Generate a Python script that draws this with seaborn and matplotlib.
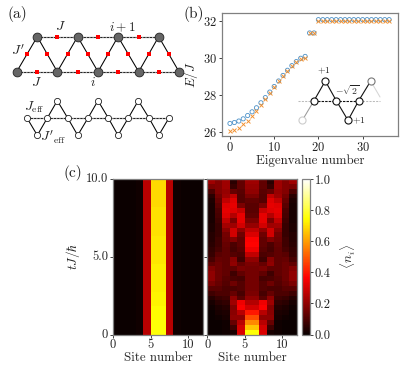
import numpy as np
import matplotlib
matplotlib.use('Agg')
import matplotlib.pyplot as plt
import seaborn as sns

sns.set_style('ticks')
plt.rcParams['font.family'] = ['cmr10', 'DejaVu Sans']
plt.rcParams['mathtext.fontset'] = 'cm'
plt.rcParams['axes.unicode_minus'] = False
plt.rcParams['axes.formatter.use_mathtext'] = True

# Panel (b) spectrum
eig_blue = [26.45, 26.5, 26.58, 26.7, 26.88, 27.08, 27.3, 27.57, 27.85, 28.15, 28.45, 28.75,
            29.05, 29.33, 29.58, 29.8, 29.98, 30.08, 31.35, 31.35] + [32.07] * 17
eig_orange = [26.05, 26.12, 26.22, 26.4, 26.6, 26.87, 27.15, 27.45, 27.78, 28.1, 28.42, 28.75,
              29.03, 29.3, 29.55, 29.75, 29.92, 30.0, 31.33, 31.33] + [32.0] * 17
eig_number = list(range(37))

# Panel (c) left, rows from t=10 down to t=0
left_core = [.69, .69, .70, .70, .71, .71, .72, .72, .73, .74, .75]
left_side = [.26, .26, .26, .26, .26, .26, .26, .26, .26, .26, .26]
left_near = [.008, .008, .008, .008, .008, .008, .008, .008, .008, .008, .008]
left_far = [.0, .0, .0, .0, .0, .0, .0, .0, .0, .0, .0]

# Panel (c) right, half of the sites (the chain is mirror symmetric), t=10 down to t=0
site0 = [.22, .17, .10, .05, .03, .02, .02, .02, .02, .03, .03, .04, .04, .05, .06, .07,
         .09, .13, .18, .20, .20, .17, .12, .08, .04, .02, .01, .0, .0, .0, .0, .0]
site1 = [.18, .18, .18, .16, .14, .12, .10, .09, .08, .07, .07, .07, .08, .08, .09, .12,
         .14, .15, .15, .15, .15, .14, .12, .10, .07, .05, .03, .02, .01, .0, .0, .0]
site2 = [.22, .22, .21, .22, .27, .32, .33, .32, .27, .23, .19, .16, .15, .14, .13, .13,
         .13, .13, .13, .13, .12, .11, .10, .10, .08, .06, .04, .03, .02, .01, .01, .01]
site3 = [.05, .07, .14, .27, .32, .33, .32, .25, .17, .22, .30, .30, .18, .10, .09, .11,
         .19, .20, .13, .08, .10, .15, .10, .14, .20, .22, .18, .19, .20, .14, .08, .02]
site4 = [.13, .13, .12, .11, .11, .17, .28, .33, .33, .30, .20, .15, .13, .13, .12, .10,
         .08, .14, .17, .13, .09, .11, .11, .09, .12, .34, .36, .26, .20, .26, .30, .31]
site5 = [.22, .21, .20, .17, .13, .12, .12, .13, .17, .21, .27, .31, .36, .37, .34, .27,
         .20, .17, .16, .16, .16, .16, .16, .17, .20, .25, .30, .40, .48, .57, .66, .75]

W, H = 415, 366
FS = 9.0
LW = 0.75


def px_axes(x0, y0, x1, y1):
    """Axes from pixel box, y counted from the top"""
    return fig.add_axes([x0 / W, 1 - y1 / H, (x1 - x0) / W, (y1 - y0) / H])


fig = plt.figure(figsize=(W / 100, H / 100), dpi=100)

# Diagram layer in pixel coordinates
bg = fig.add_axes([0, 0, 1, 1])
bg.set_xlim(0, W)
bg.set_ylim(H, 0)
bg.axis('off')


def dashed(ax, x0, x1, y):
    ax.plot([x0, x1], [y, y], color='#aaaaaa', lw=1.0, zorder=1)
    ax.plot([x0, x1], [y, y], color='#222222', lw=0.7, ls=(0, (2.2, 1.2)), zorder=2)


# (a) upper lattice
top_x = [37.3, 77.6, 118, 158.7]
bot_x = [16.7, 57.3, 98, 138.7, 179]
top_y, bot_y = 36.7, 71.7
for i, x in enumerate(top_x):
    bg.plot([bot_x[i], x, bot_x[i + 1]], [bot_y, top_y, bot_y], color='black', lw=LW, zorder=2)
dashed(bg, top_x[0], top_x[-1], top_y)
dashed(bg, bot_x[0], bot_x[-1], bot_y)
bg.scatter(top_x + bot_x, [top_y] * 4 + [bot_y] * 5, s=40, color='#666666', edgecolor='#222222', lw=0.6, zorder=3)
mid_x = [27, 47.3, 67.6, 88, 108.2, 128.3, 148.8, 169]
bg.scatter([57.3, 98, 138.7] + top_x + mid_x, [top_y] * 3 + [bot_y] * 4 + [54.3] * 8,
           s=11, marker='s', color='#ff0000', lw=0, zorder=4)

# (a) lower lattice
eff_mid = [27, 47.3, 67.7, 88, 108.3, 128.3, 149, 169]
eff_tip = [37.3, 57.3, 77.7, 98, 118, 138.3, 158.7]
eff_tip_y = [135.3, 100.7, 135.3, 100.7, 135.3, 100.7, 135.3]
for i in range(7):
    bg.plot([eff_mid[i], eff_tip[i], eff_mid[i + 1]], [118, eff_tip_y[i], 118], color='black', lw=LW, zorder=2)
dashed(bg, eff_mid[0], eff_mid[-1], 118)
bg.scatter(eff_mid + eff_tip, [118] * 8 + eff_tip_y, s=20, color='white', edgecolor='#222222', lw=0.6, zorder=3)

labels = [(17, 14, '(a)', 11), (60, 27, r'$J$', 10), (122, 27, r'$i+1$', 9.5), (18, 51, r"$J'$", 10),
          (36, 83, r'$J$', 10), (93, 83, r'$i$', 9.5), (34, 107, r'$J_{\mathrm{eff}}$', 10),
          (53, 137, r"$J'_{\mathrm{eff}}$", 10), (194, 14, '(b)', 11), (73, 173, '(c)', 11)]
for x, y, s, size in labels:
    bg.text(x, y, s, fontsize=size, ha='center', va='center', color='#222222')

# (b) spectrum
ax_b = px_axes(222, 13, 398, 136)
sns.scatterplot(x=eig_number, y=eig_blue, ax=ax_b, marker='o', s=9, facecolor='none',
                edgecolor='#4a90c8', linewidth=0.6)
sns.scatterplot(x=eig_number, y=eig_orange, ax=ax_b, marker='x', s=8, color='#f28e2b', linewidth=0.65)
ax_b.set_xlim(-1.8, 38)
ax_b.set_ylim(25.77, 32.43)
ax_b.set_xticks([0, 10, 20, 30])
ax_b.set_yticks([26, 28, 30, 32])
ax_b.set_xlabel('Eigenvalue number', fontsize=FS + 0.3, labelpad=0.5)
ax_b.set_ylabel(r'$E/J$', fontsize=FS + 0.5)
ax_b.yaxis.set_label_coords(-0.125, 0.5)
ax_b.patch.set_alpha(0)

# (b) inset drawn on top of the spectrum axes
fg = fig.add_axes([0, 0, 1, 1])
fg.set_xlim(0, W)
fg.set_ylim(H, 0)
fg.axis('off')
fg.plot([314, 302.3], [100.7, 120.3], color='#999999', lw=LW, zorder=1)
fg.plot([370.7, 380], [81, 97], color='#d5d5d5', lw=LW, zorder=1)
fg.plot([298, 314], [100.7, 100.7], color='#bbbbbb', lw=LW, ls=(0, (2, 1.2)), zorder=1)
fg.plot([358.7, 380], [100.7, 100.7], color='#bbbbbb', lw=LW, ls=(0, (2, 1.2)), zorder=1)
fg.plot([314, 358.7], [100.7, 100.7], color='#111111', lw=0.8, ls=(0, (2.2, 1)), zorder=2)
fg.plot([314, 325.3, 336.3, 348, 358.7, 370.7], [100.7, 81, 100.7, 120.3, 100.7, 81], color='#111111', lw=0.8, zorder=2)
fg.scatter([325.3, 314, 336.3, 358.7, 348], [81, 100.7, 100.7, 100.7, 120.3], s=26, color='white',
           edgecolor='#111111', lw=0.8, zorder=3)
fg.scatter([370.7], [81], s=26, color='white', edgecolor='#777777', lw=0.8, zorder=3)
fg.scatter([302.3], [120.3], s=26, color='white', edgecolor='#cccccc', lw=0.8, zorder=3)
fg.text(324, 71, r'$+1$', fontsize=7, ha='center', va='center', color='#222222')
fg.text(347, 90, r'$-\sqrt{2}$', fontsize=7, ha='center', va='center', color='#222222')
fg.text(359, 121, r'$+1$', fontsize=7, ha='center', va='center', color='#222222')

# (c) heatmaps
left_half = np.column_stack([left_far, left_far, left_far, left_near, left_side, left_core])
left_data = np.hstack([left_half, left_half[:, ::-1]])
right_half = np.column_stack([site0, site1, site2, site3, site4, site5])
right_data = np.hstack([right_half, right_half[:, ::-1]])

ax_l = px_axes(113, 179, 203, 334.5)
ax_r = px_axes(207.3, 179, 296.7, 334.5)
cax = px_axes(301.7, 179, 310, 334.5)
sns.heatmap(left_data, ax=ax_l, cmap='hot', vmin=0, vmax=1, cbar=False)
sns.heatmap(right_data, ax=ax_r, cmap='hot', vmin=0, vmax=1, cbar_ax=cax)

for ax in (ax_l, ax_r):
    ax.set_xticks([0, 5, 10])
    ax.set_xticklabels(['0', '5', '10'], rotation=0)
    ax.set_xlabel('Site number', fontsize=FS + 0.3, labelpad=0)
    for side in ax.spines.values():
        side.set_visible(True)
n = left_data.shape[0]
ax_l.set_yticks([0, n / 2, n])
ax_l.set_yticklabels(['10.0', '5.0', '0'], rotation=0)
ax_l.set_ylabel(r'$tJ/\hbar$', fontsize=FS + 0.5)
ax_l.yaxis.set_label_coords(-0.344, 0.5)
n = right_data.shape[0]
ax_r.set_yticks([0, n / 2, n])
ax_r.set_yticklabels([])
ax_r.set_ylabel('')

cax.set_yticks([0, .2, .4, .6, .8, 1.0])
cax.set_yticklabels(['0.0', '0.2', '0.4', '0.6', '0.8', '1.0'])
cax.set_ylabel(r'$\langle n_i\rangle$', fontsize=FS + 0.5, labelpad=6)
ax_r.collections[0].colorbar.outline.set_edgecolor('#808080')

for ax in (ax_b, ax_l, ax_r, cax):
    ax.tick_params(labelsize=FS, length=2, width=0.6, pad=1.5, colors='#222222')
    for side in ax.spines.values():
        side.set_edgecolor('#808080')
        side.set_linewidth(0.9)

fig.savefig('out.png', dpi=100)
